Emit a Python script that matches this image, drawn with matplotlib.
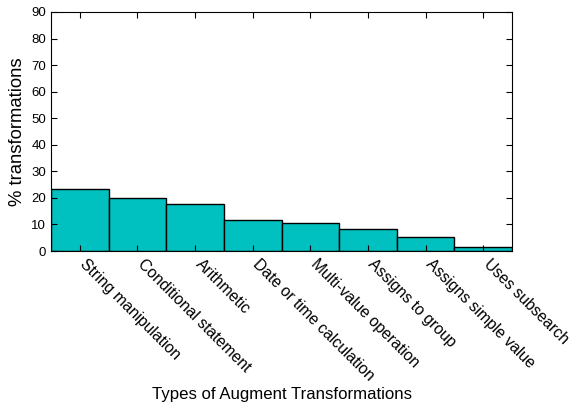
import numpy as np
import matplotlib.pyplot as plt
import matplotlib.transforms as mtransforms

plt.rcParams['font.family'] = ['Liberation Sans', 'DejaVu Sans']

categories = ["String manipulation", "Conditional statement", "Arithmetic",
              "Date or time calculation", "Multi-value operation",
              "Assigns to group", "Assigns simple value", "Uses subsearch"]
percents = [23.5, 19.8, 17.8, 11.8, 10.5, 8.1, 5.4, 1.4]

fig = plt.figure(figsize=(5.77, 4.17), dpi=100)
ax = fig.add_axes([51/577, 1 - 251/417, 461/577, 239/417])

x = np.arange(len(categories))
ax.bar(x, percents, width=1.0, color='#00c0c0', edgecolor='black', linewidth=1.0)

ax.set_xlim(-0.5, len(categories) - 0.5)
ax.set_ylim(0, 90)
ax.set_yticks(np.arange(0, 91, 10))
ax.set_xticks(x)
ax.tick_params(direction='in', top=True, right=True, length=4)
ax.tick_params(axis='y', labelsize=9.5)
ax.tick_params(axis='x', pad=4)
ax.set_xticklabels(categories, rotation=-45, ha='left', va='top',
                   rotation_mode='anchor', fontsize=11.3)

# nudge the slanted labels a little to the right of their ticks
shift = mtransforms.ScaledTranslation(0.08, 0, fig.dpi_scale_trans)
for lbl in ax.get_xticklabels():
    lbl.set_transform(lbl.get_transform() + shift)

ax.set_ylabel('% transformations', fontsize=13.3)
ax.set_xlabel('Types of Augment Transformations', fontsize=12.1)
ax.xaxis.set_label_coords(0.5, -0.57)

plt.savefig("out.png", dpi=100)
